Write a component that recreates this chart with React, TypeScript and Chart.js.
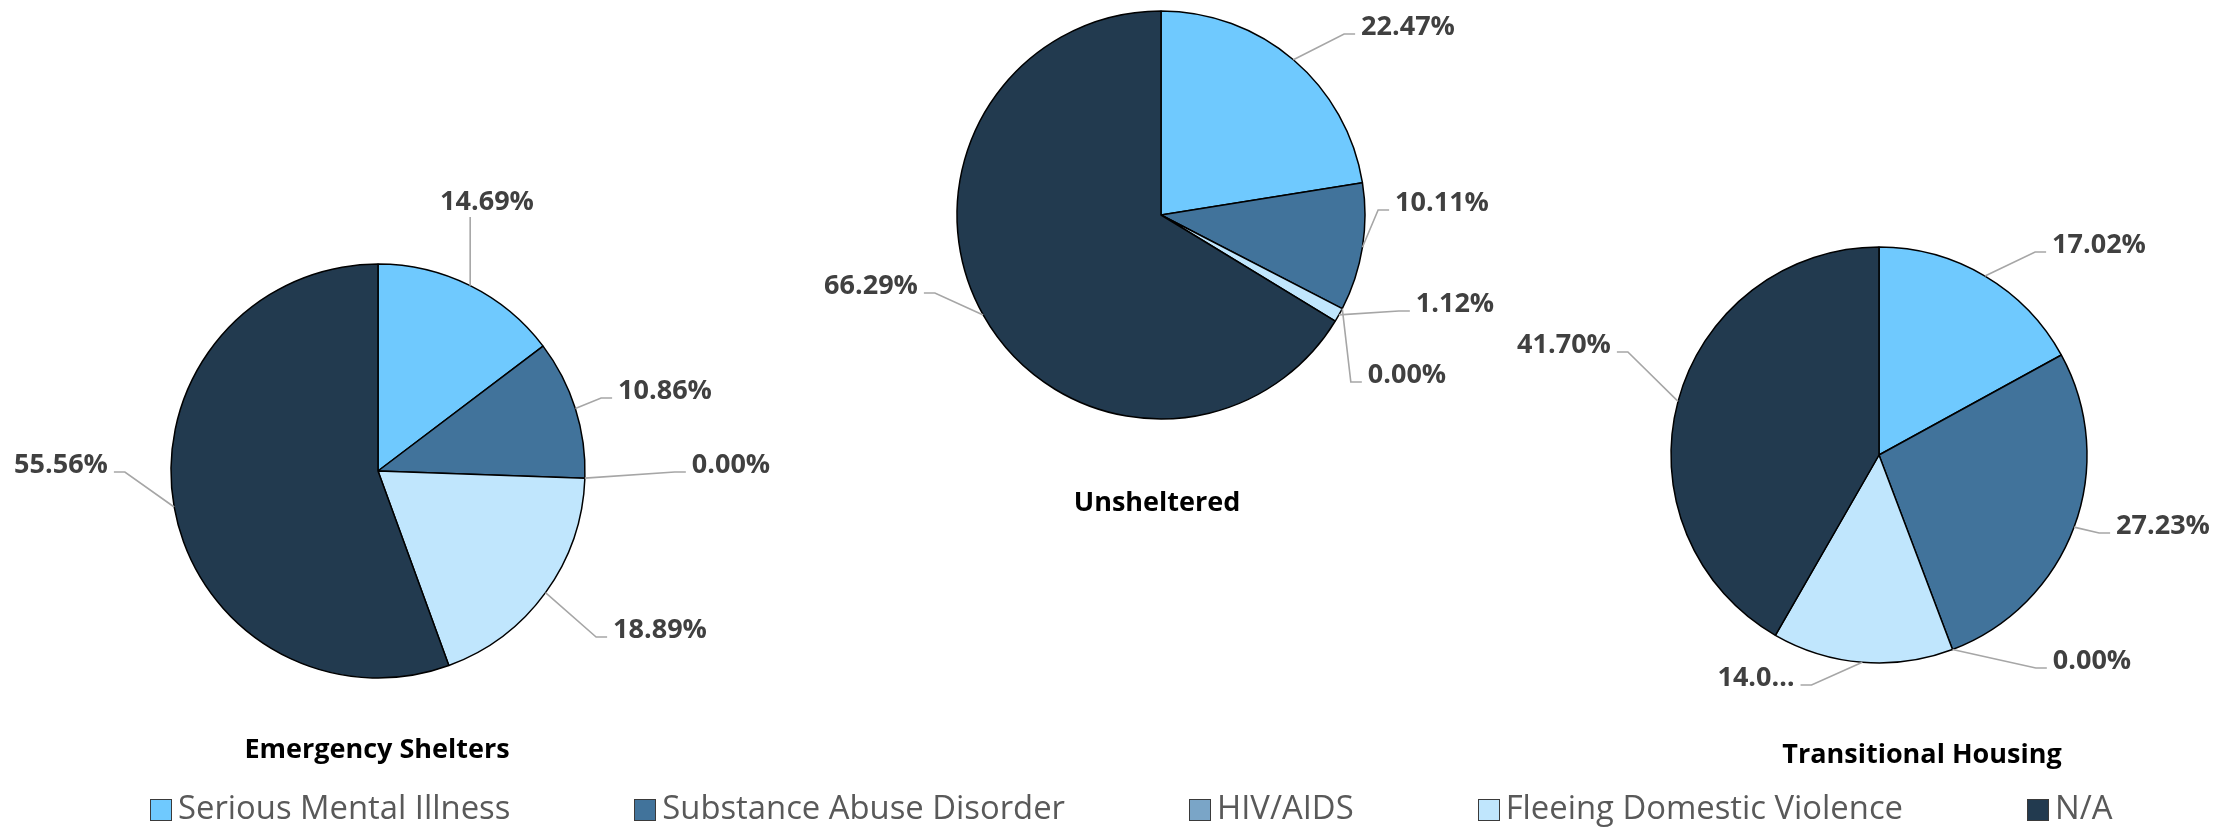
import React, { useEffect, useRef } from "react";
import { Chart, registerables } from "chart.js";

Chart.register(...registerables);

// ---------- data ----------
const categories = [
  "Serious Mental Illness",
  "Substance Abuse Disorder",
  "HIV/AIDS",
  "Fleeing Domestic Violence",
  "N/A",
];
const emergencyShelters = [14.69, 10.86, 0.0, 18.89, 55.56];
const unsheltered = [22.47, 10.11, 0.0, 1.12, 66.29];
const transitionalHousing = [17.02, 27.23, 0.0, 14.05, 41.7];
const chartTitles = ["Emergency Shelters", "Unsheltered", "Transitional Housing"];

// ---------- styles / layout ----------
const colors = ["#6FC9FE", "#41739B", "#7AA5C7", "#C0E6FD", "#223A4F"];
const W = 2239;
const H = 827;
const LABEL_FONT = 'bold 27px "Open Sans", "DejaVu Sans", sans-serif';
const CAP = 19.3;

type PieLayout = {
  cx: number;
  cy: number;
  r: number;
  titleX: number;
  titleY: number;
  labelOffsets: number[][]; // label text centre relative to pie centre
  labelMaxWidth: number[];
};

const layouts: PieLayout[] = [
  {
    cx: 378, cy: 471, r: 207, titleX: 377, titleY: 748,
    labelOffsets: [[109, -271], [287, -82], [353, -8], [282, 157], [-317, -8]],
    labelMaxWidth: [999, 999, 999, 999, 999],
  },
  {
    cx: 1161, cy: 215, r: 204, titleX: 1157, titleY: 501,
    labelOffsets: [[247, -190], [281, -14], [246, 158], [294, 87], [-290, 69]],
    labelMaxWidth: [999, 999, 999, 999, 999],
  },
  {
    cx: 1879, cy: 455, r: 208, titleX: 1922, titleY: 753,
    labelOffsets: [[220, -212], [284, 69], [213, 204], [-123, 221], [-315, -112]],
    labelMaxWidth: [999, 999, 999, 80, 999],
  },
];

const seriesList = [emergencyShelters, unsheltered, transitionalHousing];

const pieLabelPlugin = {
  id: "pieLabels",
  afterDatasetsDraw(chart: any, _args: any, opts: any) {
    const lay: PieLayout = opts.layout;
    const title: string = opts.title;
    const ctx = chart.ctx as CanvasRenderingContext2D;
    const meta = chart.getDatasetMeta(0);
    const values: number[] = chart.data.datasets[0].data;
    ctx.save();
    ctx.font = LABEL_FONT;
    meta.data.forEach((el: any, i: number) => {
      const p = el.getProps(["x", "y", "startAngle", "endAngle", "outerRadius"], true);
      const mid = (p.startAngle + p.endAngle) / 2;
      const ex = p.x + Math.cos(mid) * p.outerRadius;
      const ey = p.y + Math.sin(mid) * p.outerRadius;
      let text = values[i].toFixed(2) + "%";
      if (ctx.measureText(text).width > lay.labelMaxWidth[i]) {
        while (text.length > 1 && ctx.measureText(text + "…").width > lay.labelMaxWidth[i]) {
          text = text.slice(0, -1);
        }
        text = text + "…";
      }
      const [dx, dy] = lay.labelOffsets[i];
      const tx = p.x + dx;
      const ty = p.y + dy;
      const w = ctx.measureText(text).width;
      const left = tx - w / 2 - 6;
      const right = tx + w / 2 + 6;
      const lineY = ty + 9;
      ctx.strokeStyle = "#A6A6A6";
      ctx.lineWidth = 1.6;
      ctx.beginPath();
      if (ex >= left && ex <= right) {
        const by = ey > ty ? ty + 17 : ty - 17;
        ctx.moveTo(ex, ey);
        ctx.lineTo(ex, by);
      } else {
        const sx = ex < left ? left : right;
        const kx = ex < left ? left - 11 : right + 11;
        ctx.moveTo(ex, ey);
        ctx.lineTo(kx, lineY);
        ctx.lineTo(sx, lineY);
      }
      ctx.stroke();
      ctx.fillStyle = "#404040";
      ctx.textAlign = "center";
      ctx.textBaseline = "alphabetic";
      ctx.fillText(text, tx, ty + CAP / 2);
    });
    ctx.fillStyle = "#000000";
    ctx.textAlign = "center";
    ctx.fillText(title, lay.titleX, lay.titleY + CAP / 2);
    ctx.restore();
  },
};

function PieCanvas({ index }: { index: number }) {
  const ref = useRef<HTMLCanvasElement | null>(null);
  useEffect(() => {
    if (!ref.current) return;
    const lay = layouts[index];
    const s = lay.r + 5;
    const chart = new Chart(ref.current, {
      type: "pie",
      data: {
        labels: categories,
        datasets: [
          {
            data: seriesList[index],
            backgroundColor: colors,
            borderColor: "#000000",
            borderWidth: 1.5,
            radius: lay.r,
          } as any,
        ],
      },
      options: {
        responsive: false,
        animation: false,
        devicePixelRatio: 1,
        events: [],
        layout: {
          padding: {
            left: lay.cx - s,
            right: W - lay.cx - s,
            top: lay.cy - s,
            bottom: H - lay.cy - s,
          },
        },
        plugins: {
          legend: { display: false },
          title: { display: false },
          tooltip: { enabled: false },
          pieLabels: { layout: lay, title: chartTitles[index] },
        } as any,
      },
      plugins: [pieLabelPlugin],
    });
    return () => chart.destroy();
  }, [index]);
  return (
    <canvas
      ref={ref}
      width={W}
      height={H}
      style={{ position: "absolute", left: 0, top: 0, width: W, height: H, pointerEvents: "none" }}
    />
  );
}

export default function App() {
  return (
    <div style={{ position: "absolute", left: 0, top: 0, width: W, height: H, background: "#ffffff", overflow: "hidden" }}>
      <PieCanvas index={0} />
      <PieCanvas index={1} />
      <PieCanvas index={2} />
      <div
        style={{
          position: "absolute",
          left: 150,
          top: 785,
          display: "flex",
          gap: 124,
          alignItems: "center",
          fontFamily: '"Open Sans", "DejaVu Sans", sans-serif',
          fontSize: 32.8,
          lineHeight: "44px",
          color: "#595959",
          whiteSpace: "nowrap",
        }}
      >
        {categories.map((c, i) => (
          <div key={c} style={{ display: "flex", alignItems: "center" }}>
            <span
              style={{
                display: "inline-block",
                width: 22,
                height: 22,
                boxSizing: "border-box",
                background: colors[i],
                border: "1.5px solid #3a3a3a",
                marginRight: 6,
                position: "relative",
                top: 3,
              }}
            />
            <span>{c}</span>
          </div>
        ))}
      </div>
    </div>
  );
}
